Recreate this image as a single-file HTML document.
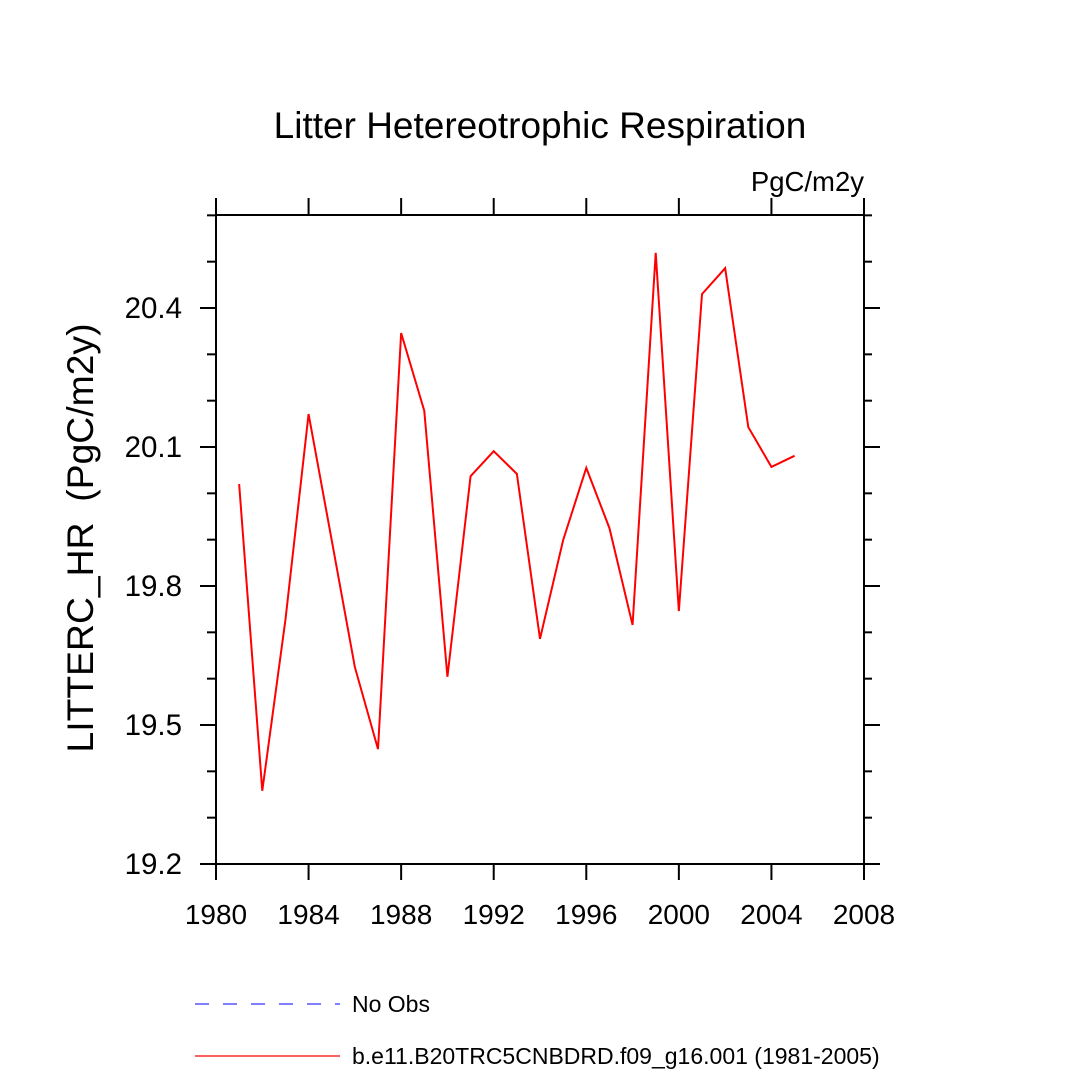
<!DOCTYPE html>
<html><head><meta charset="utf-8"><style>body{margin:0;background:#fff}</style></head>
<body>
<svg id="chart" width="1080" height="1080" xmlns="http://www.w3.org/2000/svg" font-family="Liberation Sans, sans-serif">
<text x="540" y="138" font-size="37" text-anchor="middle">Litter Hetereotrophic Respiration</text>
<text x="864" y="191" font-size="27.5" text-anchor="end">PgC/m2y</text>
<text transform="translate(93,538) rotate(-90)" font-size="37.3" text-anchor="middle" xml:space="preserve">LITTERC_HR  (PgC/m2y)</text>
<rect x="216" y="215" width="648" height="649" fill="none" stroke="#000" stroke-width="2"/>
<g id="axes"></g>
<polyline id="series" fill="none" stroke="#f00" stroke-width="2"/>
<line x1="195" y1="1004" x2="340" y2="1004" stroke="#33f" stroke-width="1.2" stroke-dasharray="14,14"/>
<text x="352" y="1012" font-size="23">No Obs</text>
<line x1="195" y1="1056" x2="340" y2="1056" stroke="#f00" stroke-width="1.2"/>
<text x="352" y="1064" font-size="23">b.e11.B20TRC5CNBDRD.f09_g16.001 (1981-2005)</text>
</svg>
<script>
const years=[1981,1982,1983,1984,1985,1986,1987,1988,1989,1990,1991,1992,1993,1994,1995,1996,1997,1998,1999,2000,2001,2002,2003,2004,2005];
const values=[20.02,19.358,19.727,20.171,19.899,19.625,19.448,20.346,20.178,19.604,20.037,20.091,20.042,19.686,19.899,20.055,19.925,19.716,20.519,19.746,20.430,20.486,20.143,20.057,20.081];
const xTicks=[1980,1984,1988,1992,1996,2000,2004,2008];
const yTicks=[19.2,19.5,19.8,20.1,20.4];
const yMinor=[19.3,19.4,19.6,19.7,19.9,20.0,20.2,20.3,20.5,20.6];
const X=v=>216+(v-1980)*648/28;
const Y=v=>864-(v-19.2)*463.33;
const NS='http://www.w3.org/2000/svg';
const ax=document.getElementById('axes');
function ln(x1,y1,x2,y2,name){const l=document.createElementNS(NS,'line');
l.setAttribute('x1',x1);l.setAttribute('y1',y1);l.setAttribute('x2',x2);l.setAttribute('y2',y2);
l.setAttribute('stroke','#000');l.setAttribute('stroke-width','2');


ax.appendChild(l);}
function tx(x,y,s,anchor,name,fs){const t=document.createElementNS(NS,'text');
t.setAttribute('x',x);t.setAttribute('y',y);t.setAttribute('font-size',fs);t.setAttribute('text-anchor',anchor);t.textContent=s;


ax.appendChild(t);}
xTicks.forEach(v=>{const x=X(v);ln(x,864,x,880,'x-tick');ln(x,198,x,215,'x-tick-top');tx(x,924,String(v),'middle','x-tick-label','28');});
yTicks.forEach(v=>{const y=Y(v);ln(200,y,216,y,'y-tick');ln(864,y,880,y,'y-tick-right');tx(182,y+10,v.toFixed(1),'end','y-tick-label','29.5');});
yMinor.forEach(v=>{const y=Y(v);ln(207,y,216,y,'y-minor-tick');ln(864,y,872,y,'y-minor-tick-right');});
document.getElementById('series').setAttribute('points',years.map((y,i)=>X(y)+','+Y(values[i])).join(' '));
</script>
</body></html>
